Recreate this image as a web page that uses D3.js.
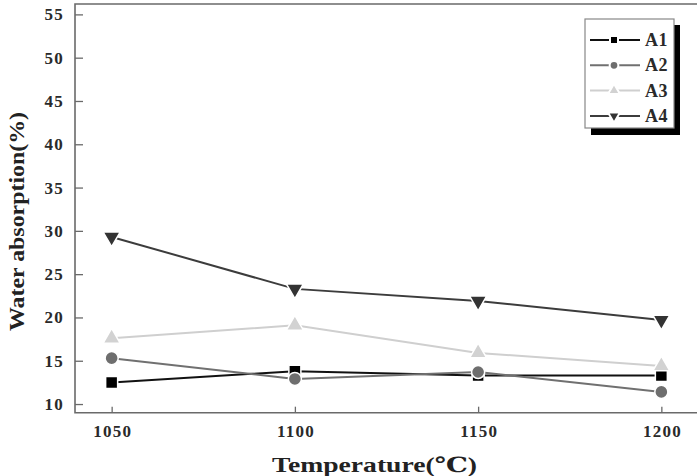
<!DOCTYPE html>
<html>
<head>
<meta charset="utf-8">
<script src="https://cdn.jsdelivr.net/npm/d3@7"></script>
<style>
    body { margin: 0; background: #fff; }
    svg text { font-family: "Liberation Serif", "DejaVu Serif", serif; font-weight: bold; }
</style>
</head>
<body>
<svg width="697" height="476"></svg>
<script>
var temperatures = [1050, 1100, 1150, 1200];
var seriesNames = ["A1", "A2", "A3", "A4"];
var a1Values = [12.5, 13.8, 13.3, 13.3];
var a2Values = [15.3, 12.9, 13.7, 11.4];
var a3Values = [17.6, 19.1, 15.9, 14.4];
var a4Values = [29.3, 23.3, 21.9, 19.7];
var yTicks = [10, 15, 20, 25, 30, 35, 40, 45, 50, 55];

var seriesStyle = {
    A1: { line: "#111", fill: "#000", symbol: d3.symbolSquare, size: 144, legendSize: 64, rotate: 0 },
    A2: { line: "#707070", fill: "#6e6e6e", symbol: d3.symbolCircle, size: 135, legendSize: 60, rotate: 0 },
    A3: { line: "#cfcfcf", fill: "#d2d2d2", symbol: d3.symbolTriangle, size: 125, legendSize: 62, rotate: 0 },
    A4: { line: "#3c3c3c", fill: "#333", symbol: d3.symbolTriangle, size: 125, legendSize: 62, rotate: 180 }
};

var allValues = [a1Values, a2Values, a3Values, a4Values];

var xScale = d3.scaleLinear([1040, 1210], [75, 698]);
var yScale = d3.scaleLinear([9, 56.2], [412.7, 4]);

var svg = d3.select("svg");

// frame: left axis, top line, bottom axis (right side is cut off)
svg.append("path")
    .attr("d", "M" + xScale(1210) + "," + yScale(56.2) + "H" + xScale(1040) + "V" + yScale(9) + "H" + xScale(1210))
    .attr("fill", "none")
    .attr("stroke", "#6a6a6a")
    .attr("stroke-width", 1.6);

function styleTicks(g) {
    g.select(".domain").remove();
    g.selectAll(".tick line").attr("stroke", "#6a6a6a").attr("stroke-width", 1.3);
    g.selectAll(".tick text")
        .attr("fill", "#2a2a2a")
        .attr("font-size", 17)
        .attr("font-weight", "bold")
        .attr("font-family", "Liberation Serif, serif")
        .attr("letter-spacing", 1.2);
}

var yAxis = d3.axisLeft(yScale).tickValues(yTicks).tickSize(-8).tickPadding(18);
svg.append("g")
    .attr("transform", "translate(" + xScale(1040) + ",0)")
    .call(yAxis)
    .call(styleTicks)
    .call(function(g) {
        g.selectAll(".tick text").attr("x", -11);
    });

var xAxis = d3.axisBottom(xScale).tickValues(temperatures).tickFormat(d3.format("d")).tickSize(-6).tickPadding(12);
svg.append("g")
    .attr("transform", "translate(0," + yScale(9) + ")")
    .call(xAxis)
    .call(styleTicks)
    .call(function(g) {
        g.selectAll(".tick text").attr("dx", 0.6);
    });

// axis titles
svg.append("text")
    .attr("x", 272)
    .attr("y", 472)
    .attr("font-size", 21)
    .attr("fill", "#222")
    .attr("textLength", 205)
    .attr("lengthAdjust", "spacingAndGlyphs")
    .text("Temperature(\u2103)");

svg.append("text")
    .attr("transform", "translate(24,331) rotate(-90)")
    .attr("font-size", 21)
    .attr("fill", "#222")
    .attr("textLength", 219)
    .attr("lengthAdjust", "spacingAndGlyphs")
    .text("Water absorption(%)");

var line = d3.line()
    .x(function(d, i) { return xScale(temperatures[i]); })
    .y(function(d) { return yScale(d); });

seriesNames.forEach(function(name, k) {
    var style = seriesStyle[name];
    svg.append("path")
        .datum(allValues[k])
        .attr("d", line)
        .attr("fill", "none")
        .attr("stroke", style.line)
        .attr("stroke-width", 2);
});

seriesNames.forEach(function(name, k) {
    var style = seriesStyle[name];
    svg.append("g")
        .selectAll("path")
        .data(allValues[k])
        .enter()
            .append("path")
            .attr("d", d3.symbol(style.symbol, style.size))
            .attr("transform", function(d, i) {
                return "translate(" + xScale(temperatures[i]) + "," + yScale(d) + ") rotate(" + style.rotate + ")";
            })
            .attr("fill", style.fill)
            .attr("stroke", "#fff")
            .attr("stroke-width", 1.5);
});

// legend
var legend = svg.append("g");
legend.append("rect")
    .attr("x", 591).attr("y", 25).attr("width", 89).attr("height", 110)
    .attr("fill", "#000");
legend.append("rect")
    .attr("x", 585).attr("y", 19).attr("width", 89).attr("height", 109)
    .attr("fill", "#fff")
    .attr("stroke", "#888")
    .attr("stroke-width", 1.2);

seriesNames.forEach(function(name, k) {
    var style = seriesStyle[name];
    var y = 40 + k * 25.3;
    legend.append("line")
        .attr("x1", 590).attr("x2", 640).attr("y1", y).attr("y2", y)
        .attr("stroke", style.line)
        .attr("stroke-width", 2);
    legend.append("path")
        .attr("d", d3.symbol(style.symbol, style.legendSize))
        .attr("transform", "translate(614," + y + ") rotate(" + style.rotate + ")")
        .attr("fill", style.fill)
        .attr("stroke", "#fff")
        .attr("stroke-width", 2);
    legend.append("text")
        .attr("x", 645)
        .attr("y", y + 6)
        .attr("font-size", 18)
        .attr("fill", "#2a2a2a")
        .attr("letter-spacing", 0.5)
        .text(name);
});
</script>
</body>
</html>
